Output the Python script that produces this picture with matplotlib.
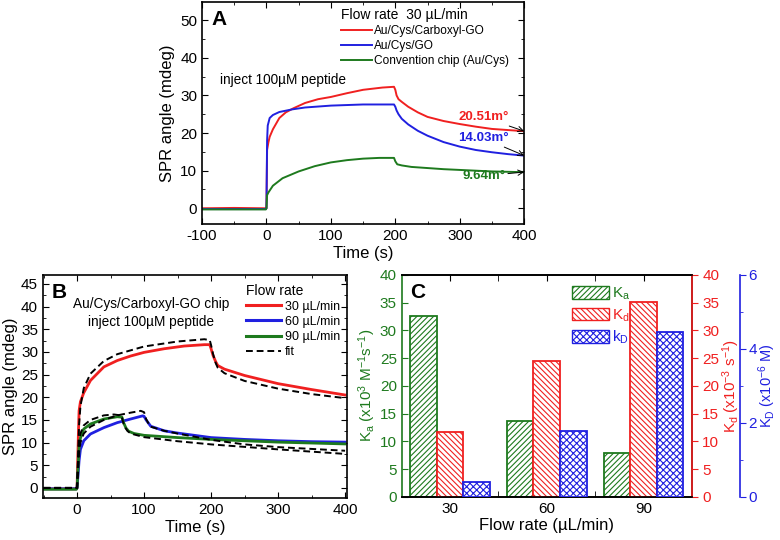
import numpy as np
import matplotlib

matplotlib.use("Agg")
import matplotlib.pyplot as plt
from matplotlib.patches import Patch
from matplotlib.ticker import MultipleLocator, FixedLocator, NullFormatter

plt.rcParams["font.family"] = ["Liberation Sans", "DejaVu Sans"]
plt.rcParams["hatch.linewidth"] = 0.8
plt.rcParams["axes.unicode_minus"] = False
plt.rcParams["mathtext.fontset"] = "custom"
plt.rcParams["mathtext.rm"] = "Liberation Sans"
plt.rcParams["mathtext.it"] = "Liberation Sans"

RED = "#f02020"
BLUE = "#2020e0"
GREEN = "#1e7a1e"

# Panel A: 30 uL/min, three chips
A_RED_T = [-100, -50, -1, 0, 1, 3, 5, 10, 20, 30, 42, 60, 80, 100, 125, 150, 180, 198, 200, 202, 205,
           210, 220, 235, 250, 275, 300, 325, 350, 375, 400]
A_RED = [0.0, 0.1, 0.0, 0.0, 15.5, 17.5, 19.0, 21.0, 24.0, 25.5, 26.6, 28.0, 29.0, 29.6, 30.6, 31.5, 32.1,
         32.3, 31.5, 30.0, 29.0, 28.3, 27.0, 25.5, 24.3, 23.2, 22.4, 21.7, 21.1, 20.8, 20.5]
A_BLUE_T = [-100, -50, -1, 0, 1, 2, 5, 10, 20, 40, 60, 100, 150, 198, 200, 202, 205, 210, 220, 235, 250,
            275, 300, 325, 350, 375, 400]
A_BLUE = [-0.2, -0.2, -0.2, 0.0, 18.0, 22.0, 24.0, 24.8, 25.6, 26.3, 26.8, 27.3, 27.6, 27.6, 27.0, 26.0,
          25.0, 23.8, 22.3, 20.6, 19.3, 17.6, 16.4, 15.5, 14.9, 14.4, 14.0]
A_GREEN_T = [-100, -50, -1, 0, 1, 3, 10, 25, 50, 75, 100, 125, 150, 175, 198, 200, 203, 210, 225, 250,
             275, 300, 350, 400]
A_GREEN = [-0.3, -0.3, -0.3, 0.0, 3.5, 4.2, 6.0, 8.0, 9.8, 11.2, 12.2, 12.8, 13.2, 13.4, 13.4, 12.5, 11.7,
           11.4, 11.0, 10.7, 10.4, 10.2, 9.8, 9.6]
A_LABELS = ["Au/Cys/Carboxyl-GO", "Au/Cys/GO", "Convention chip (Au/Cys)"]
A_END_TEXT = ["20.51m°", "14.03m°", "9.64m°"]
A_END_VAL = [20.51, 14.03, 9.64]

# Panel B: carboxyl-GO chip at three flow rates, with fits
B_RED_T = [-50, -1, 0, 2, 3, 5, 10, 20, 40, 60, 80, 100, 130, 160, 190, 198, 200, 203, 207, 210, 220,
           250, 300, 350, 400]
B_RED = [-0.2, -0.2, 0.0, 12.0, 17.0, 19.0, 21.0, 23.7, 26.7, 28.1, 29.1, 29.9, 30.7, 31.3, 31.6, 31.6,
         30.7, 29.2, 27.8, 27.0, 26.2, 24.8, 23.0, 21.7, 20.5]
B_RED_FIT_T = [-50, -1, 0, 3, 5, 10, 20, 40, 60, 100, 150, 190, 198, 200, 203, 207, 210, 220, 250, 300,
               350, 400]
B_RED_FIT = [0.0, 0.0, 0.0, 14.0, 18.0, 22.0, 25.2, 28.0, 29.5, 31.2, 32.3, 32.8, 32.6, 31.5, 29.5, 27.5,
             26.5, 25.3, 23.6, 21.9, 20.7, 19.8]
B_BLUE_T = [-50, -1, 0, 3, 5, 10, 20, 40, 60, 80, 98, 100, 103, 107, 110, 130, 150, 200, 250, 300, 350, 400]
B_BLUE = [-0.2, -0.2, 0.0, 6.0, 8.5, 10.4, 11.9, 13.3, 14.4, 15.2, 15.9, 15.8, 15.0, 14.2, 13.6, 12.6,
          12.1, 11.1, 10.7, 10.4, 10.2, 10.1]
B_BLUE_FIT_T = [-50, -1, 0, 3, 5, 10, 20, 40, 60, 80, 95, 100, 103, 107, 110, 130, 150, 200, 250, 300,
                350, 400]
B_BLUE_FIT = [0.0, 0.0, 0.0, 8.0, 10.0, 12.0, 13.5, 15.0, 16.0, 16.6, 17.0, 16.7, 15.2, 14.1, 13.5, 12.6,
              12.0, 10.6, 9.6, 9.0, 8.6, 8.2]
B_GREEN_T = [-50, -1, 0, 3, 5, 10, 20, 40, 60, 67, 70, 73, 77, 85, 100, 150, 200, 300, 400]
B_GREEN = [-0.3, -0.3, 0.0, 9.0, 11.0, 13.0, 14.1, 15.2, 15.7, 15.6, 14.2, 13.2, 12.5, 12.0, 11.6, 11.1,
           10.7, 10.1, 9.7]
B_GREEN_FIT_T = [-50, -1, 0, 3, 5, 10, 20, 40, 55, 65, 67, 70, 75, 80, 100, 150, 200, 300, 400]
B_GREEN_FIT = [0.0, 0.0, 0.0, 10.0, 12.0, 13.8, 15.0, 16.0, 16.2, 16.0, 15.5, 13.8, 12.6, 12.0, 11.2,
               10.3, 9.6, 8.5, 7.5]
B_LABELS = ["30 µL/min", "60 µL/min", "90 µL/min", "fit"]

# Panel C: kinetic constants vs flow rate
FLOW_RATES = ["30", "60", "90"]
KA = [32.5, 13.7, 7.9]
KD_RATE = [11.6, 24.5, 35.1]
KD_EQ = [0.39, 1.79, 4.45]


def style_axes(ax):
    ax.tick_params(direction="in", which="both", top=True, right=True, labelsize=11)
    ax.tick_params(which="major", length=4)
    ax.tick_params(which="minor", length=2)
    for spine in ax.spines.values():
        spine.set_linewidth(1.2)


fig = plt.figure(figsize=(7.8, 5.4), dpi=100)

# ---- Panel A
ax_a = fig.add_axes([0.259, 0.585, 0.413, 0.411])
for t, v, c in zip((A_RED_T, A_BLUE_T, A_GREEN_T), (A_RED, A_BLUE, A_GREEN), (RED, BLUE, GREEN)):
    ax_a.plot(t, v, color=c, linewidth=1.4)
ax_a.set_xlim(-100, 400)
ax_a.set_ylim(-4.2, 54.8)
ax_a.xaxis.set_major_locator(MultipleLocator(100))
ax_a.xaxis.set_minor_locator(MultipleLocator(50))
ax_a.yaxis.set_major_locator(MultipleLocator(10))
ax_a.yaxis.set_minor_locator(MultipleLocator(5))
style_axes(ax_a)
ax_a.set_xlabel("Time (s)", fontsize=12, labelpad=2)
ax_a.set_ylabel("SPR angle (mdeg)", fontsize=12, labelpad=4)
ax_a.text(0.03, 0.965, "A", transform=ax_a.transAxes, fontsize=15, fontweight="bold", va="top")
ax_a.text(0.055, 0.65, "inject 100µM peptide", transform=ax_a.transAxes, fontsize=9.8, va="center")
leg_a = ax_a.legend(A_LABELS, loc="upper left", bbox_to_anchor=(0.41, 1.005), frameon=False,
                    fontsize=8.6, title="Flow rate  30 µL/min", title_fontsize=10,
                    handlelength=2.6, handletextpad=0.1, labelspacing=0.25, borderaxespad=0.2)
leg_a._legend_box.align = "left"
for text, val, c, ty in zip(A_END_TEXT, A_END_VAL, (RED, BLUE, GREEN), (24.2, 18.6, 8.6)):
    ax_a.annotate(text, xy=(400, val), xytext=(337, ty), fontsize=9.5, color=c, fontweight="bold",
                  ha="center", va="center",
                  arrowprops=dict(arrowstyle="->", color="black", lw=0.7, shrinkA=16, shrinkB=0))

# ---- Panel B
ax_b = fig.add_axes([0.055, 0.078, 0.390, 0.413])
ax_b.plot(B_RED_T, B_RED, color=RED, linewidth=2.0)
ax_b.plot(B_BLUE_T, B_BLUE, color=BLUE, linewidth=2.0)
ax_b.plot(B_GREEN_T, B_GREEN, color=GREEN, linewidth=2.0)
for t, v in ((B_RED_FIT_T, B_RED_FIT), (B_BLUE_FIT_T, B_BLUE_FIT), (B_GREEN_FIT_T, B_GREEN_FIT)):
    ax_b.plot(t, v, color="black", linewidth=1.4, linestyle=(0, (3.5, 2)))
ax_b.set_xlim(-51, 403)
ax_b.set_ylim(-2.2, 47.0)
ax_b.xaxis.set_major_locator(MultipleLocator(100))
ax_b.xaxis.set_minor_locator(MultipleLocator(50))
ax_b.yaxis.set_major_locator(MultipleLocator(5))
ax_b.yaxis.set_minor_locator(MultipleLocator(2.5))
style_axes(ax_b)
ax_b.set_xlabel("Time (s)", fontsize=12, labelpad=2)
ax_b.set_ylabel("SPR angle (mdeg)", fontsize=12, labelpad=2)
ax_b.text(0.03, 0.965, "B", transform=ax_b.transAxes, fontsize=15, fontweight="bold", va="top")
ax_b.text(0.355, 0.83, "Au/Cys/Carboxyl-GO chip\ninject 100µM peptide", transform=ax_b.transAxes,
          fontsize=9.8, ha="center", va="center", linespacing=1.4)
handles_b = [plt.Line2D([], [], color=c, linewidth=2.2) for c in (RED, BLUE, GREEN)]
handles_b.append(plt.Line2D([], [], color="black", linewidth=1.4, linestyle=(0, (3.5, 2))))
leg_b = ax_b.legend(handles_b, B_LABELS, loc="upper left", bbox_to_anchor=(0.64, 1.0), frameon=False,
                    fontsize=9, title="Flow rate", title_fontsize=10, handlelength=2.8,
                    handletextpad=0.3, labelspacing=0.25, borderaxespad=0.3)
leg_b._legend_box.align = "left"

# ---- Panel C
ax_c = fig.add_axes([0.515, 0.080, 0.372, 0.411])
ax_c2 = ax_c.twinx()
ax_c3 = ax_c.twinx()
ax_c3.spines["right"].set_position(("axes", 1.166))

x = np.arange(len(FLOW_RATES))
width = 0.275
ax_c.bar(x - width, KA, width, facecolor="white", edgecolor=GREEN, hatch="//////", linewidth=1.3)
ax_c2.bar(x, KD_RATE, width, facecolor="white", edgecolor=RED, hatch="\\\\\\\\\\\\", linewidth=1.3)
ax_c3.bar(x + width, KD_EQ, width, facecolor="white", edgecolor=BLUE, hatch="xxxxx", linewidth=1.3)

ax_c.set_xlim(-0.5, 2.5)
ax_c.set_ylim(0, 40)
ax_c2.set_ylim(0, 40)
ax_c3.set_ylim(0, 6)
ax_c.set_xticks(x)
ax_c.set_xticklabels(FLOW_RATES)
ax_c.xaxis.set_minor_locator(FixedLocator([0.5, 1.5]))
ax_c.xaxis.set_minor_formatter(NullFormatter())
ax_c.tick_params(axis="x", which="both", direction="in", top=True, labelsize=11, length=4)
ax_c.tick_params(axis="y", which="both", direction="in", colors=GREEN, labelsize=11, length=4)
ax_c.yaxis.set_major_locator(MultipleLocator(5))
ax_c2.yaxis.set_major_locator(MultipleLocator(5))
ax_c2.tick_params(axis="y", direction="out", colors=RED, labelsize=11, length=4)
ax_c3.yaxis.set_major_locator(MultipleLocator(2))
ax_c3.yaxis.set_minor_locator(MultipleLocator(1))
ax_c3.tick_params(axis="y", which="both", direction="out", colors=BLUE, labelsize=11, pad=2)
ax_c3.tick_params(axis="y", which="major", length=4)
ax_c3.tick_params(axis="y", which="minor", length=2)

for a in (ax_c, ax_c2, ax_c3):
    for spine in a.spines.values():
        spine.set_linewidth(1.2)
ax_c.spines["left"].set_color(GREEN)
ax_c2.spines["left"].set_visible(False)
ax_c3.spines["left"].set_visible(False)
ax_c2.spines["right"].set_color(RED)
ax_c3.spines["right"].set_color(BLUE)
ax_c3.spines["top"].set_visible(False)
ax_c3.spines["bottom"].set_visible(False)

ax_c.set_xlabel("Flow rate (µL/min)", fontsize=12, labelpad=2)
ax_c.set_ylabel(r"K$_a$ (x10$^3$ M$^{-1}$s$^{-1}$)", fontsize=11, color=GREEN, labelpad=1)
ax_c2.set_ylabel(r"K$_d$ (x10$^{-3}$ s$^{-1}$)", fontsize=11, color=RED, labelpad=1)
ax_c3.set_ylabel(r"K$_D$ (x10$^{-6}$ M)", fontsize=10.5, color=BLUE, labelpad=0)
ax_c.text(0.03, 0.965, "C", transform=ax_c.transAxes, fontsize=15, fontweight="bold", va="top")

handles_c = [
    Patch(facecolor="white", edgecolor=GREEN, hatch="//////"),
    Patch(facecolor="white", edgecolor=RED, hatch="\\\\\\\\\\\\"),
    Patch(facecolor="white", edgecolor=BLUE, hatch="xxxxx"),
]
leg_c = ax_c3.legend(handles_c, [r"K$_a$", r"K$_d$", r"k$_D$"], loc="upper left",
                     bbox_to_anchor=(0.55, 1.0), frameon=False, fontsize=11, handlelength=2.4,
                     handleheight=0.9, handletextpad=0.2, labelspacing=0.35, borderaxespad=0.3)
for txt, c in zip(leg_c.get_texts(), (GREEN, RED, BLUE)):
    txt.set_color(c)

fig.savefig("out.png", dpi=100)
